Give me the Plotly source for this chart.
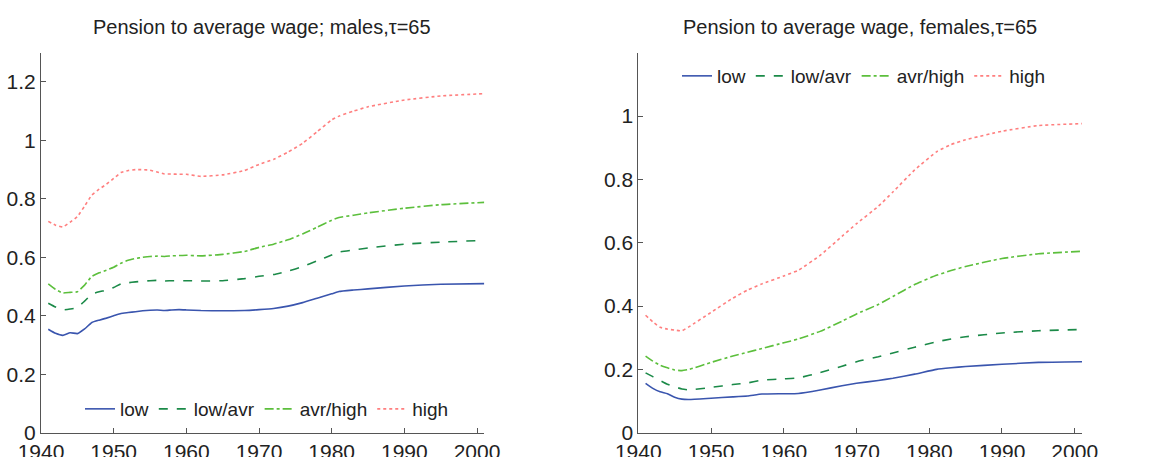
import plotly.graph_objects as go

# ---------------- data ----------------
years_m = [1941, 1942, 1943, 1944, 1945, 1946, 1947, 1948, 1949, 1950, 1951, 1952, 1953, 1954,
           1955, 1956, 1957, 1958, 1959, 1960, 1962, 1965, 1968, 1970, 1972, 1974, 1976, 1978,
           1980, 1981, 1983, 1985, 1990, 1995, 2001]
m_low = [0.354, 0.340, 0.333, 0.342, 0.339, 0.355, 0.377, 0.385, 0.392, 0.400, 0.408, 0.411, 0.414, 0.417,
         0.419, 0.420, 0.418, 0.420, 0.421, 0.420, 0.418, 0.417, 0.418, 0.421, 0.425, 0.433, 0.445, 0.460,
         0.475, 0.483, 0.488, 0.492, 0.502, 0.508, 0.510]
m_lowavr = [0.443, 0.430, 0.420, 0.423, 0.428, 0.450, 0.474, 0.482, 0.488, 0.497, 0.509, 0.513, 0.516, 0.518,
            0.520, 0.521, 0.519, 0.520, 0.520, 0.520, 0.519, 0.520, 0.527, 0.535, 0.541, 0.553, 0.568, 0.588,
            0.608, 0.618, 0.625, 0.632, 0.645, 0.652, 0.658]
m_avrhigh = [0.509, 0.490, 0.478, 0.480, 0.482, 0.505, 0.535, 0.547, 0.556, 0.566, 0.580, 0.590, 0.596, 0.600,
             0.603, 0.604, 0.603, 0.605, 0.606, 0.607, 0.605, 0.610, 0.620, 0.634, 0.645, 0.660, 0.680, 0.703,
             0.727, 0.736, 0.744, 0.752, 0.768, 0.780, 0.788]
m_high = [0.723, 0.710, 0.704, 0.720, 0.739, 0.775, 0.813, 0.833, 0.850, 0.870, 0.890, 0.897, 0.900, 0.900,
          0.898, 0.892, 0.885, 0.885, 0.884, 0.884, 0.877, 0.882, 0.897, 0.918, 0.935, 0.960, 0.990, 1.030,
          1.070, 1.083, 1.100, 1.115, 1.138, 1.152, 1.160]

years_f = [1941, 1942, 1943, 1944, 1945, 1946, 1947, 1950, 1953, 1955, 1957, 1960, 1962, 1965, 1968,
           1970, 1973, 1975, 1978, 1981, 1983, 1985, 1990, 1995, 2001]
f_low = [0.156, 0.140, 0.129, 0.123, 0.112, 0.106, 0.105, 0.109, 0.113, 0.116, 0.122, 0.123, 0.124, 0.135,
         0.148, 0.156, 0.165, 0.172, 0.185, 0.200, 0.205, 0.209, 0.216, 0.222, 0.224]
f_lowavr = [0.189, 0.177, 0.165, 0.153, 0.145, 0.138, 0.135, 0.143, 0.152, 0.157, 0.166, 0.170, 0.173, 0.190,
            0.210, 0.224, 0.240, 0.252, 0.270, 0.287, 0.296, 0.303, 0.315, 0.322, 0.326]
f_avrhigh = [0.242, 0.226, 0.213, 0.205, 0.198, 0.196, 0.200, 0.222, 0.242, 0.254, 0.266, 0.284, 0.296, 0.320,
             0.352, 0.375, 0.405, 0.430, 0.468, 0.497, 0.512, 0.525, 0.550, 0.565, 0.573]
f_high = [0.371, 0.350, 0.333, 0.327, 0.324, 0.322, 0.335, 0.380, 0.425, 0.450, 0.470, 0.495, 0.513, 0.560,
          0.620, 0.660, 0.715, 0.760, 0.830, 0.887, 0.910, 0.925, 0.952, 0.970, 0.976]

series_names = ["low", "low/avr", "avr/high", "high"]
x_ticks = [1940, 1950, 1960, 1970, 1980, 1990, 2000]
y_ticks_m = [0, 0.2, 0.4, 0.6, 0.8, 1.0, 1.2]
y_ticks_f = [0, 0.2, 0.4, 0.6, 0.8, 1.0]
y_labels_m = ["0", "0.2", "0.4", "0.6", "0.8", "1", "1.2"]
y_labels_f = ["0", "0.2", "0.4", "0.6", "0.8", "1"]

# ---------------- styles ----------------
colors = ["#3A55AE", "#1B8A48", "#5CBF3C", "#FF7F7F"]
dashes = ["solid", "dash", "dashdot", "dot"]
FONT = "Liberation Sans, Arial, Helvetica, sans-serif"

fig = go.Figure()

for vals, name, c, d in zip([m_low, m_lowavr, m_avrhigh, m_high], series_names, colors, dashes):
    fig.add_trace(go.Scatter(x=years_m, y=vals, name=name, mode="lines",
                             line=dict(color=c, dash=d, width=1.6, shape="spline", smoothing=0.4),
                             xaxis="x", yaxis="y", legend="legend"))

for vals, name, c, d in zip([f_low, f_lowavr, f_avrhigh, f_high], series_names, colors, dashes):
    fig.add_trace(go.Scatter(x=years_f, y=vals, name=name, mode="lines",
                             line=dict(color=c, dash=d, width=1.6, shape="spline", smoothing=0.4),
                             xaxis="x2", yaxis="y2", legend="legend2"))

axis_common = dict(showgrid=False, zeroline=False, showline=True, linecolor="#555555", linewidth=1,
                   ticks="inside", ticklen=5, tickcolor="#555555", tickwidth=1, automargin=False,
                   tickfont=dict(family=FONT, size=21, color="#222222"))

ydom = [1 - 432.7 / 457, 1 - 52.7 / 457]

fig.update_layout(
    width=1150, height=457,
    margin=dict(l=0, r=0, t=0, b=0),
    paper_bgcolor="white", plot_bgcolor="white",
    font=dict(family=FONT, size=19, color="#222222"),
    xaxis=dict(domain=[41 / 1150, 484.3 / 1150], range=[1940, 2001], tickvals=x_ticks,
               ticktext=[str(v) for v in x_ticks], anchor="y", ticklabelstandoff=0, **axis_common),
    yaxis=dict(domain=ydom, range=[0, 1.3], tickvals=y_ticks_m, ticktext=y_labels_m,
               anchor="x", ticklabelstandoff=0, **axis_common),
    xaxis2=dict(domain=[638.3 / 1150, 1082 / 1150], range=[1940, 2001], tickvals=x_ticks,
                ticktext=[str(v) for v in x_ticks], anchor="y2", ticklabelstandoff=0, **axis_common),
    yaxis2=dict(domain=ydom, range=[0, 1.2], tickvals=y_ticks_f, ticktext=y_labels_f,
                anchor="x2", ticklabelstandoff=0, **axis_common),
    legend=dict(orientation="h", x=80 / 1150, y=1 - 409 / 457, xanchor="left", yanchor="middle",
                bgcolor="rgba(0,0,0,0)", font=dict(family=FONT, size=19, color="#222222"),
                itemwidth=30, tracegroupgap=0),
    legend2=dict(orientation="h", x=677 / 1150, y=1 - 76 / 457, xanchor="left", yanchor="middle",
                 bgcolor="rgba(0,0,0,0)", font=dict(family=FONT, size=19, color="#222222"),
                 itemwidth=30, tracegroupgap=0),
    annotations=[
        dict(text="Pension to average wage; males,\u03c4=65", x=262 / 1150, y=1 - 27 / 457,
             xref="paper", yref="paper", showarrow=False, xanchor="center", yanchor="middle",
             font=dict(family=FONT, size=20, color="#222222")),
        dict(text="Pension to average wage, females,\u03c4=65", x=859.5 / 1150, y=1 - 27 / 457,
             xref="paper", yref="paper", showarrow=False, xanchor="center", yanchor="middle",
             font=dict(family=FONT, size=20, color="#222222")),
    ],
)

fig.write_html("out.html")
